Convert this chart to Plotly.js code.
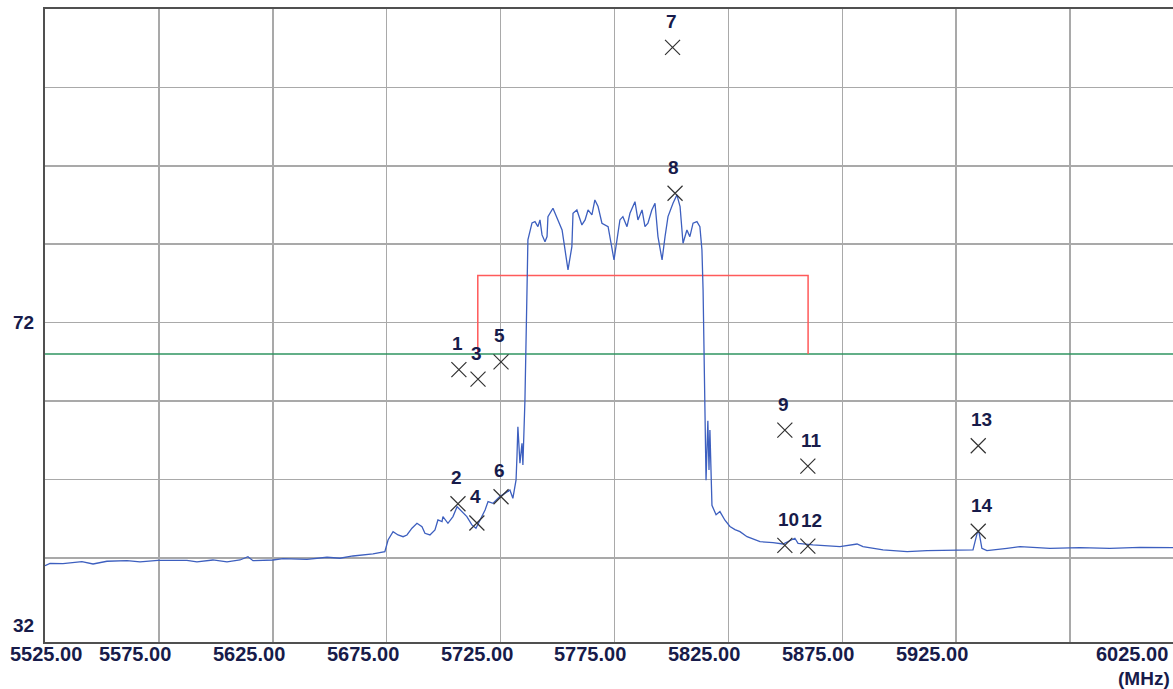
<!DOCTYPE html>
<html>
<head>
<meta charset="utf-8">
<script src="https://cdn.plot.ly/plotly-3.0.1.min.js"></script>
<style>
html,body{margin:0;padding:0;background:#fff;}
#chart{width:1173px;height:689px;}
</style>
</head>
<body>
<div id="chart"></div>
<script>
// Spectrum trace (MHz, dB)
const traceFreq = [5525.0,5527.2,5532.9,5537.3,5541.2,5546.1,5552.2,5561.0,5566.7,5574.6,5587.3,5591.7,5598.7,5604.9,5610.6,5614.1,5616.3,5625.1,5629.5,5640.0,5648.8,5654.5,5660.2,5669.0,5672.1,5674.2,5675.6,5677.8,5680.0,5682.2,5683.9,5686.1,5688.3,5690.5,5691.8,5694.0,5696.2,5697.5,5699.3,5699.7,5701.9,5704.1,5705.9,5707.2,5710.2,5712.4,5714.2,5716.0,5718.2,5719.5,5721.7,5724.7,5726.9,5729.1,5730.4,5731.8,5732.2,5732.6,5733.5,5734.4,5734.8,5735.3,5735.7,5736.6,5737.0,5738.8,5740.1,5741.4,5742.3,5743.2,5744.5,5745.4,5745.8,5748.0,5750.2,5752.0,5753.3,5754.6,5756.3,5756.8,5758.5,5760.7,5762.1,5763.4,5765.1,5766.4,5767.8,5769.5,5772.2,5773.9,5774.8,5776.1,5777.4,5778.7,5780.5,5781.8,5784.0,5785.3,5787.1,5788.4,5789.7,5791.4,5792.8,5794.1,5795.9,5797.2,5798.5,5800.7,5802.4,5803.8,5805.1,5806.8,5808.1,5809.5,5811.2,5812.5,5813.4,5813.9,5814.7,5815.2,5816.0,5816.5,5816.9,5817.8,5819.6,5821.3,5823.5,5825.7,5827.9,5830.1,5833.2,5838.9,5844.6,5849.0,5854.2,5855.6,5862.1,5868.3,5874.0,5881.5,5884.1,5892.9,5903.5,5912.2,5923.6,5932.4,5934.2,5935.0,5936.3,5938.5,5947.3,5953.0,5966.2,5979.3,5992.5,6005.7,6020.2];
const traceLevel = [41.0,41.3,41.26,41.44,41.52,41.22,41.57,41.64,41.48,41.69,41.69,41.48,41.73,41.48,41.73,42.15,41.64,41.73,41.9,41.82,42.08,41.95,42.24,42.5,42.66,42.79,44.28,45.34,44.92,44.7,44.92,45.78,46.41,45.98,45.14,44.92,45.56,46.83,46.62,47.26,46.41,47.26,48.53,48.11,47.26,46.2,45.78,46.83,48.11,49.17,48.96,49.81,50.24,50.66,49.6,51.94,54.91,58.73,54.07,56.62,53.85,57.89,62.14,76.17,82.55,84.72,84.88,84.24,85.1,83.19,82.33,82.97,85.52,86.59,85.1,83.82,81.27,78.72,81.69,85.95,86.37,84.46,85.1,86.37,85.74,87.65,86.8,84.68,84.24,81.69,80.0,82.55,85.1,85.52,84.24,85.95,87.43,85.1,86.37,84.24,84.68,86.37,87.23,82.97,80.0,82.97,85.52,87.23,88.29,86.8,82.13,83.82,82.97,84.68,84.88,84.24,81.27,76.17,62.1,51.9,59.5,53.2,58.3,48.7,47.5,47.9,46.8,46.0,45.6,45.34,44.7,44.07,43.94,43.77,44.5,43.86,43.65,43.56,43.43,43.77,43.43,43.01,42.79,42.92,42.92,43.01,45.14,45.34,43.22,42.92,43.22,43.43,43.2,43.3,43.2,43.35,43.3];

// Numbered markers
const markerLabels = ["1","2","3","4","5","6","7","8","9","10","11","12","13","14"];
const markerFreq  = [5706.7,5706.3,5715.1,5714.6,5725.2,5725.2,5800.5,5801.6,5849.8,5849.8,5859.9,5859.9,5934.7,5934.7];
const markerLevel = [66.0,48.9,64.8,46.45,67.0,49.8,107.1,88.5,58.3,43.6,53.7,43.5,56.3,45.4];

// Limit lines
const greenLevel = 68;
const greenFreq = [5525, 6020.2];
const redFreq  = [5715, 5715, 5860, 5860];
const redLevel = [68, 78, 78, 68];

// Axis
const xRange = [5525, 6020.2];
const yRange = [31.27, 112.0];
const xGrid = [5575,5625,5675,5725,5775,5825,5875,5925,5975];
const yGrid = [42,52,62,72,82,92,102];
const xTickVals = [5525,5575,5625,5675,5725,5775,5825,5875,5925];
const xTickText = ["5525.00","5575.00","5625.00","5675.00","5725.00","5775.00","5825.00","5875.00","5925.00"];
const lastTickText = "6025.00";
const unitText = "(MHz)";
const yLabelVals = [72, 32];

const txtColor = "#171b4a";
const tickFont = {family:"Liberation Sans, Arial, sans-serif", size:20, color:txtColor, weight:"bold"};
const numFont  = {family:"Liberation Sans, Arial, sans-serif", size:19, color:txtColor, weight:"bold"};

const traces = [
  {x: greenFreq, y: [greenLevel, greenLevel], mode:"lines", line:{color:"#2f9560", width:1.5}, hoverinfo:"skip"},
  {x: redFreq, y: redLevel, mode:"lines", line:{color:"#ff5a5a", width:1.5}, hoverinfo:"skip"},
  {x: traceFreq, y: traceLevel, mode:"lines", line:{color:"#3d5fbf", width:1.3}, hoverinfo:"skip"},
  {x: markerFreq, y: markerLevel, mode:"markers", marker:{symbol:"x-thin-open", size:15, line:{color:"#333333", width:1.2}, color:"#333333"}, hoverinfo:"skip"}
];

const annotations = [];
markerLabels.forEach((t,i)=>{
  annotations.push({x:markerFreq[i], y:markerLevel[i], xref:"x", yref:"y", text:t, showarrow:false,
    xanchor:"left", yanchor:"middle", xshift:-9, yshift:26, font:numFont});
});
xTickVals.forEach((v,i)=>{
  annotations.push({x:v, y:0, xref:"x", yref:"paper", text:xTickText[i], showarrow:false,
    xanchor:"center", yanchor:"middle", xshift:(i===0?1:-24), yshift:-12, font:tickFont});
});
annotations.push({x:1, y:0, xref:"paper", yref:"paper", text:lastTickText, showarrow:false,
  xanchor:"right", yanchor:"middle", xshift:-3, yshift:-12, font:tickFont});
annotations.push({x:1, y:0, xref:"paper", yref:"paper", text:unitText, showarrow:false,
  xanchor:"right", yanchor:"middle", xshift:-1, yshift:-36, font:{family:"Liberation Sans, Arial, sans-serif", size:19, color:txtColor, weight:"bold"}});
yLabelVals.forEach((v,i)=>{
  annotations.push({x:0, y:v, xref:"paper", yref:"y", text:String(v), showarrow:false,
    xanchor:"center", yanchor:"middle", xshift:-22, yshift:(i===0?0:11), font:{family:"Liberation Sans, Arial, sans-serif", size:19, color:txtColor, weight:"bold"}});
});

const layout = {
  width:1173, height:689,
  margin:{l:45, r:0, t:9, b:47, pad:0},
  paper_bgcolor:"#ffffff", plot_bgcolor:"#ffffff",
  showlegend:false,
  xaxis:{range:xRange, tickvals:xGrid, showticklabels:false, ticks:"", showgrid:true, gridcolor:"#a9a9a9", gridwidth:1.5,
    zeroline:false, showline:true, linecolor:"#505050", linewidth:2, mirror:true, fixedrange:true},
  yaxis:{range:yRange, tickvals:yGrid, showticklabels:false, ticks:"", showgrid:true, gridcolor:"#a9a9a9", gridwidth:1.5,
    zeroline:false, showline:true, linecolor:"#505050", linewidth:2, mirror:false, fixedrange:true},
  annotations:annotations
};

Plotly.newPlot("chart", traces, layout, {displayModeBar:false, staticPlot:true});
</script>
</body>
</html>
